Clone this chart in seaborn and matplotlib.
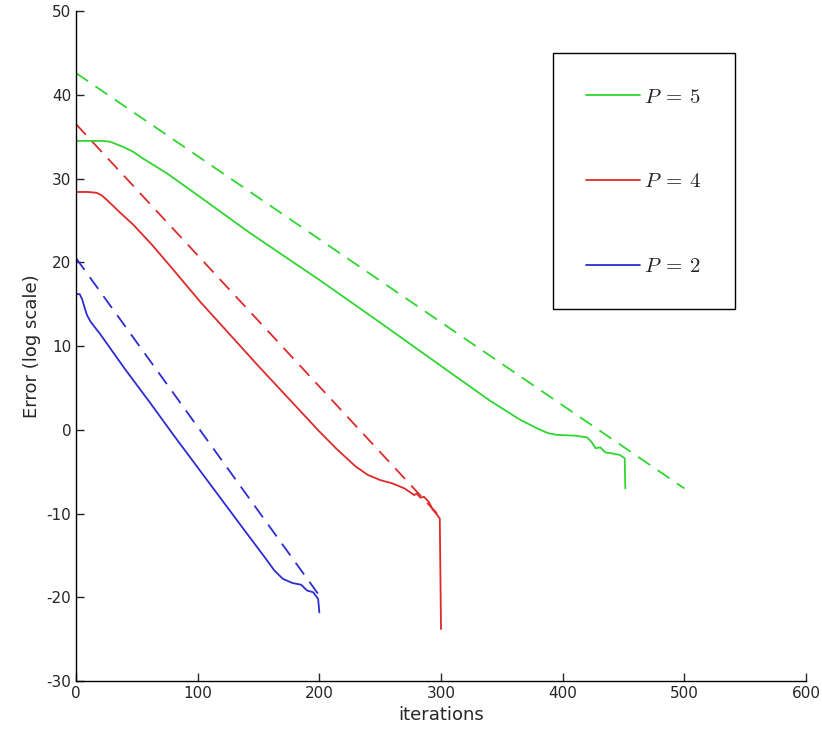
import numpy as np
import pandas as pd
import seaborn as sns
import matplotlib
matplotlib.use("Agg")
import matplotlib.pyplot as plt

# solid curves
p5_x = [0, 15, 22, 28, 35, 40, 47, 55, 65, 75, 102, 143, 200, 250, 307, 340, 365, 380,
        388, 395, 410, 420, 424, 427, 431, 435, 440, 447, 451, 451.5]
p5_y = [34.5, 34.5, 34.5, 34.4, 34.0, 33.7, 33.2, 32.4, 31.5, 30.6, 27.8, 23.5, 17.9, 12.8,
        6.9, 3.5, 1.2, 0.1, -0.4, -0.6, -0.7, -0.9, -1.5, -2.2, -2.1, -2.7, -2.8, -3.0, -3.4, -7.0]

p4_x = [0, 10, 17, 21, 25, 30, 35, 47, 63, 80, 102, 150, 200, 215, 230, 240, 250, 260, 270,
        275, 278, 280, 283, 286, 290, 293, 296, 299, 300]
p4_y = [28.4, 28.4, 28.3, 28.0, 27.5, 26.8, 26.1, 24.5, 22.0, 19.1, 15.3, 7.6, -0.2, -2.4,
        -4.4, -5.4, -6.0, -6.4, -7.0, -7.5, -7.8, -7.6, -8.1, -8.0, -8.6, -9.5, -10.0, -10.6, -23.8]

p2_x = [0, 3, 5, 7, 9, 12, 20, 40, 60, 80, 100, 120, 140, 155, 163, 170, 178, 185, 190,
        195, 197, 199, 200]
p2_y = [16.2, 16.2, 15.6, 14.6, 13.7, 12.9, 11.4, 7.3, 3.4, -0.6, -4.5, -8.4, -12.3, -15.2,
        -16.8, -17.8, -18.3, -18.5, -19.2, -19.4, -19.8, -20.2, -21.8]

# dashed reference lines (straight, end points)
p5_ref_x = [0, 500]
p5_ref_y = [42.6, -7.0]
p4_ref_x = [0, 300]
p4_ref_y = [36.5, -10.5]
p2_ref_x = [0, 200]
p2_ref_y = [20.5, -19.8]

green = "#2fd62f"
red = "#e02a2a"
blue = "#2c2cd0"

sns.set_style("ticks")
plt.rcParams["font.family"] = ["DejaVu Sans"]
plt.rcParams["mathtext.fontset"] = "cm"
plt.rcParams["axes.unicode_minus"] = False

fig = plt.figure(figsize=(8.22, 7.4), dpi=100)
ax = fig.add_axes([0.0925, 0.0797, 0.888, 0.9053])

dash = (0, (8, 5))
sns.lineplot(x=p5_ref_x, y=p5_ref_y, color=green, linestyle=dash, lw=1.3, ax=ax, estimator=None, sort=False)
sns.lineplot(x=p4_ref_x, y=p4_ref_y, color=red, linestyle=dash, lw=1.3, ax=ax, estimator=None, sort=False)
sns.lineplot(x=p2_ref_x, y=p2_ref_y, color=blue, linestyle=dash, lw=1.3, ax=ax, estimator=None, sort=False)

sns.lineplot(x=p5_x, y=p5_y, color=green, lw=1.3, ax=ax, estimator=None, sort=False, label=r"$P\:=\:5$")
sns.lineplot(x=p4_x, y=p4_y, color=red, lw=1.3, ax=ax, estimator=None, sort=False, label=r"$P\:=\:4$")
sns.lineplot(x=p2_x, y=p2_y, color=blue, lw=1.3, ax=ax, estimator=None, sort=False, label=r"$P\:=\:2$")

ax.set_xlim(0, 600)
ax.set_ylim(-30, 50)
ax.set_xticks(range(0, 601, 100))
ax.set_yticks(range(-30, 51, 10))
ax.tick_params(direction="in", length=6, width=1, labelsize=11, colors="#262626")
ax.set_xlabel("iterations", fontsize=13, color="#262626")
ax.set_ylabel("Error (log scale)", fontsize=13, color="#262626")
sns.despine(ax=ax)
for s in ["left", "bottom"]:
    ax.spines[s].set_color("black")
    ax.spines[s].set_linewidth(1.0)

leg = ax.legend(loc="upper left", bbox_to_anchor=(0.653, 0.937), fontsize=15,
                frameon=True, fancybox=False, framealpha=1, edgecolor="black",
                handlelength=2.6, handletextpad=0.2, labelspacing=3.1,
                borderpad=1.6, borderaxespad=0)
leg.get_frame().set_linewidth(1.0)

fig.savefig("out.png", dpi=100)
